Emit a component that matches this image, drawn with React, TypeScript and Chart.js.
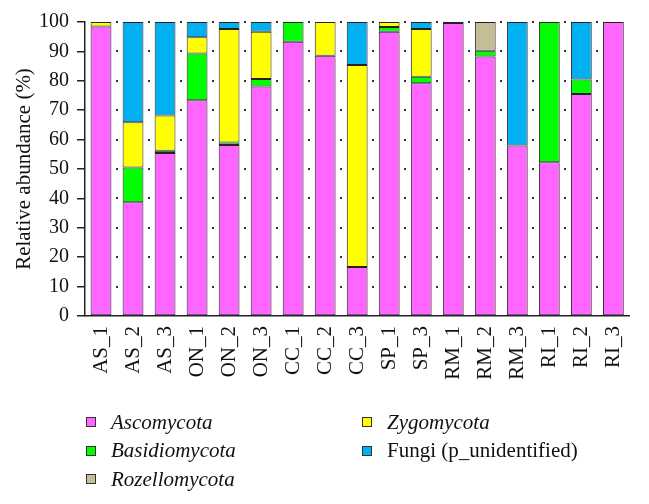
import React, { useEffect, useRef } from "react";
import { Chart, registerables } from "chart.js";

Chart.register(...registerables);

const categories = ["AS_1","AS_2","AS_3","ON_1","ON_2","ON_3","CC_1","CC_2","CC_3","SP_1","SP_3","RM_1","RM_2","RM_3","RI_1","RI_2","RI_3"];
const ascomycota    = [98.5, 38.7, 55.4, 73.4, 58.2, 78.1, 93.3, 88.5, 16.7, 96.7, 79.2, 99.7, 88.3, 58.0, 52.3, 75.5, 100];
const basidiomycota = [0,    11.8, 0.8,  15.9, 0.8,  2.5,  6.7,  0,    0,    1.6,  2.2,  0.3,  1.9,  0,    47.7, 4.9,  0];
const zygomycota    = [1.5,  15.4, 12.0, 5.5,  38.6, 16.1, 0,    11.5, 68.7, 1.7,  16.2, 0,    0,    0,    0,    0,    0];
const rozellomycota = [0,    0,    0,    0,    0,    0,    0,    0,    0,    0,    0,    0,    9.8,  0,    0,    0,    0];
const fungiUnident  = [0,    34.1, 31.8, 5.2,  2.4,  3.3,  0,    0,    14.6, 0,    2.4,  0,    0,    42.0, 0,    19.6, 0];
const yTicks = [0, 10, 20, 30, 40, 50, 60, 70, 80, 90, 100];

const COLORS = {
  asco: "#FF66FF",
  basid: "#00FF00",
  zygo: "#FFFF00",
  rozello: "#C4BD97",
  fungi: "#00B0F0",
};

const SERIF = "'Liberation Serif', 'DejaVu Serif', serif";

export default function App() {
  const ref = useRef<HTMLCanvasElement | null>(null);
  useEffect(() => {
    if (!ref.current) return;
    const mk = (label: string, data: number[], color: string) => ({
      label,
      data,
      backgroundColor: color,
      borderColor: "#222",
      borderWidth: 1,
      borderSkipped: false,
      categoryPercentage: 1,
      barPercentage: 0.65,
    });
    const chart = new Chart(ref.current, {
      type: "bar",
      data: {
        labels: categories,
        datasets: [
          mk("Ascomycota", ascomycota, COLORS.asco),
          mk("Basidiomycota", basidiomycota, COLORS.basid),
          mk("Zygomycota", zygomycota, COLORS.zygo),
          mk("Rozellomycota", rozellomycota, COLORS.rozello),
          mk("Fungi (p_unidentified)", fungiUnident, COLORS.fungi),
        ],
      },
      options: {
        animation: false,
        responsive: false,
        maintainAspectRatio: false,
        layout: { padding: { top: 22, right: 15, left: 0, bottom: 0 } },
        plugins: { legend: { display: false }, tooltip: { enabled: false } },
        scales: {
          x: {
            stacked: true,
            offset: true,
            grid: { display: false, drawTicks: false },
            border: { display: true, color: "#222", width: 1.5 },
            ticks: {
              minRotation: 90,
              maxRotation: 90,
              autoSkip: false,
              padding: 10,
              color: "#111",
              font: { family: SERIF, size: 21 },
            },
            afterFit: (s: any) => { s.height = 504 - 316; },
          },
          y: {
            stacked: true,
            min: 0,
            max: 100,
            afterBuildTicks: (s: any) => { s.ticks = yTicks.map((v) => ({ value: v })); },
            grid: {
              drawOnChartArea: false,
              drawTicks: true,
              tickLength: 8,
              color: "#222",
              lineWidth: 1.5,
            },
            border: { display: true, color: "#222", width: 1.5 },
            ticks: {
              padding: 8,
              color: "#111",
              font: { family: SERIF, size: 20 },
            },
            title: {
              display: true,
              text: "Relative abundance (%)",
              color: "#111",
              font: { family: SERIF, size: 21 },
              padding: { top: 12, bottom: 0 },
            },
            afterFit: (s: any) => { s.width = 85; },
          },
        },
      },
      plugins: [
        {
          id: "dotGrid",
          afterDatasetsDraw(c: any) {
            const ctx = c.ctx;
            const xs = c.scales.x;
            const ys = c.scales.y;
            ctx.save();
            ctx.fillStyle = "#333";
            for (let i = 1; i < categories.length; i++) {
              const bx = (xs.getPixelForValue(i - 1) + xs.getPixelForValue(i)) / 2;
              yTicks.forEach((v) => {
                if (v === 0) return;
                const py = ys.getPixelForValue(v);
                ctx.fillRect(Math.round(bx) - 1, Math.round(py) - 1, 2, 2);
              });
            }
            ctx.restore();
          },
        },
      ],
    });
    return () => chart.destroy();
  }, []);

  const legendItem = (label: string, color: string, italic: boolean) => (
    <div style={{ display: "flex", alignItems: "center", height: 28.5 }}>
      <span style={{ display: "inline-block", width: 8, height: 8, background: color, border: "1px solid #333", marginRight: 15 }} />
      <span style={{ fontStyle: italic ? "italic" : "normal" }}>{label}</span>
    </div>
  );

  return (
    <div style={{ position: "fixed", left: 0, top: 0, width: 649, height: 504, background: "#fff", overflow: "hidden" }}>
      <canvas ref={ref} width={649} height={504} style={{ position: "absolute", left: 0, top: 0, width: 649, height: 504 }} />
      <div style={{ position: "absolute", left: 86, top: 408, fontFamily: SERIF, fontSize: 21, color: "#111", lineHeight: 1 }}>
        {legendItem("Ascomycota", COLORS.asco, true)}
        {legendItem("Basidiomycota", COLORS.basid, true)}
        {legendItem("Rozellomycota", COLORS.rozello, true)}
      </div>
      <div style={{ position: "absolute", left: 362, top: 408, fontFamily: SERIF, fontSize: 21, color: "#111", lineHeight: 1 }}>
        {legendItem("Zygomycota", COLORS.zygo, true)}
        {legendItem("Fungi (p_unidentified)", COLORS.fungi, false)}
      </div>
    </div>
  );
}
